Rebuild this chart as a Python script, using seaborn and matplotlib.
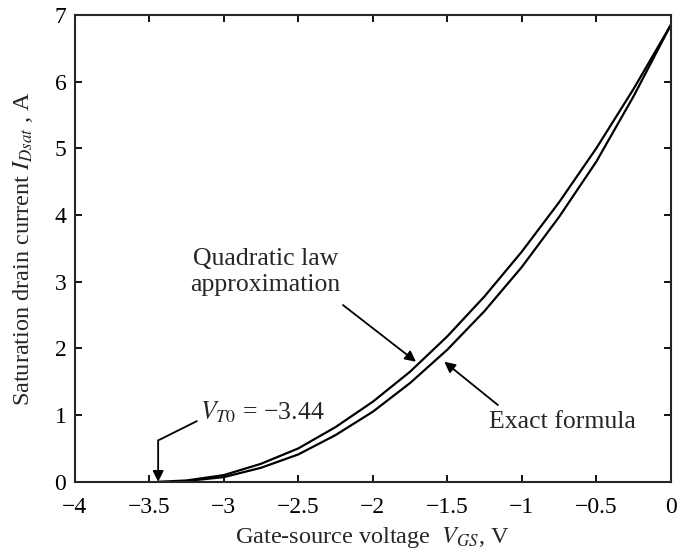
import matplotlib
matplotlib.use("Agg")
import matplotlib.pyplot as plt
import seaborn as sns
import pandas as pd

# ---- data ----
vgs_quad = [-3.44, -3.25, -3.0, -2.75, -2.5, -2.25, -2.0, -1.75, -1.5, -1.25, -1.0, -0.75, -0.5, -0.25, 0.0]
id_quad = [0.0, 0.02, 0.10, 0.27, 0.50, 0.82, 1.20, 1.65, 2.18, 2.78, 3.45, 4.19, 5.00, 5.89, 6.85]

vgs_exact = [-3.30, -3.0, -2.75, -2.5, -2.25, -2.0, -1.75, -1.5, -1.25, -1.0, -0.75, -0.5, -0.25, 0.0]
id_exact = [0.0, 0.07, 0.21, 0.41, 0.70, 1.05, 1.48, 1.98, 2.56, 3.22, 3.97, 4.80, 5.78, 6.85]

x_ticks = [-4, -3.5, -3, -2.5, -2, -1.5, -1, -0.5, 0]
x_ticklabels = ["\u22124", "\u22123.5", "\u22123", "\u22122.5", "\u22122", "\u22121.5", "\u22121", "\u22120.5", "0"]
y_ticks = [0, 1, 2, 3, 4, 5, 6, 7]
vt0 = -3.44

df = pd.concat([
    pd.DataFrame({"VGS": vgs_quad, "ID": id_quad, "curve": "quad"}),
    pd.DataFrame({"VGS": vgs_exact, "ID": id_exact, "curve": "exact"}),
])

sns.set_style("ticks")
plt.rcParams["font.family"] = ["Liberation Serif", "DejaVu Serif"]
plt.rcParams["mathtext.fontset"] = "stix"
plt.rcParams["axes.linewidth"] = 1.5

fig = plt.figure(figsize=(6.79, 5.5), dpi=100)
ax = fig.add_axes([0.110, 0.124, 0.878, 0.849])

sns.lineplot(data=df, x="VGS", y="ID", hue="curve", palette={"quad": "black", "exact": "black"},
             linewidth=1.6, legend=False, ax=ax, sort=False, estimator=None)

ax.set_xlim(-4, 0)
ax.set_ylim(0, 7)
ax.set_xticks(x_ticks)
ax.set_xticklabels(x_ticklabels)
ax.set_yticks(y_ticks)
ax.tick_params(direction="in", length=5, width=1.3, top=True, right=True,
               labelsize=17, colors="black")
ax.tick_params(axis="x", pad=11)
ax.tick_params(axis="y", pad=6)

ax.set_xlabel("Gate-source voltage  $V_{GS}$, V", fontsize=17.5, labelpad=5)
ax.set_ylabel("Saturation drain current $I_{Dsat}$ , A", fontsize=17.5, labelpad=14)

arrow = dict(arrowstyle="-|>", color="black", lw=1.3, mutation_scale=16, shrinkA=0, shrinkB=0)

# Quadratic law label
ax.annotate("", xy=(-1.71, 1.80), xytext=(-2.20, 2.65), arrowprops=arrow)
ax.text(-2.72, 3.14, "Quadratic law\napproximation", ha="center", va="center",
        fontsize=18.5, linespacing=1.25)

# Exact formula label
ax.annotate("", xy=(-1.52, 1.80), xytext=(-1.16, 1.15), arrowprops=arrow)
ax.text(-0.73, 0.90, "Exact formula", ha="center", va="center", fontsize=18.5)

# VT0 label
ax.plot([-3.18, vt0], [0.91, 0.62], color="black", lw=1.3)
ax.annotate("", xy=(vt0, 0.0), xytext=(vt0, 0.62), arrowprops=arrow)
ax.text(-3.16, 1.05, "$V_{T0}$ = \u22123.44", ha="left", va="center", fontsize=18.5)

fig.savefig("out.png", dpi=100)
